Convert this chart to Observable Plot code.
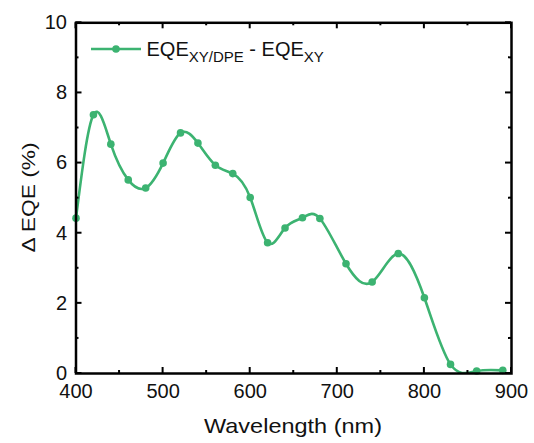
<!DOCTYPE html>
<html>
<head>
<meta charset="utf-8">
<script src="https://cdn.jsdelivr.net/npm/d3@7"></script>
<script src="https://cdn.jsdelivr.net/npm/@observablehq/plot@0.6"></script>
<style>
  html, body { margin: 0; padding: 0; background: #fff; }
  #chart { width: 534px; height: 443px; }
</style>
</head>
<body>
<div id="chart"></div>
<script>
const wavelength = [400, 420, 440, 460, 480, 500, 520, 540, 560, 580, 600, 620, 640, 660, 680, 710, 740, 770, 800, 830, 860, 890];
const deltaEQE   = [4.43, 7.38, 6.54, 5.52, 5.29, 6.00, 6.86, 6.57, 5.94, 5.70, 5.02, 3.73, 4.15, 4.44, 4.42, 3.13, 2.61, 3.42, 2.16, 0.26, 0.07, 0.09];
const xTicks = [400, 500, 600, 700, 800, 900];
const xMinorTicks = [450, 550, 650, 750, 850];
const yTicks = [0, 2, 4, 6, 8, 10];
const yMinorTicks = [1, 3, 5, 7, 9];
const seriesLabel = ["EQE", "XY/DPE", " - EQE", "XY"];
const xTitle = "Wavelength (nm)";
const yTitle = "\u0394 EQE (%)";

const green = "#3cb371";
const data = wavelength.map((w, i) => ({w, v: deltaEQE[i]}));
const font = "'Liberation Sans', Arial, sans-serif";

const W = 534, H = 443, mL = 75.5, mR = 23, mT = 22.3, mB = 70;

const plot = Plot.plot({
  width: W,
  height: H,
  marginLeft: mL,
  marginRight: mR,
  marginTop: mT,
  marginBottom: mB,
  style: {fontFamily: font, fontSize: "20px", color: "#111", background: "#fff"},
  x: {domain: [400, 900]},
  y: {domain: [0, 10]},
  marks: [
    Plot.line(data, {x: "w", y: "v", curve: "natural", stroke: green, strokeWidth: 2.6, clip: true}),
    Plot.dot(data, {x: "w", y: "v", r: 3.8, fill: green, stroke: "none"}),
    Plot.axisX({anchor: "bottom", ticks: xTicks, tickSize: 0, tickPadding: 10, label: null, fontSize: 20}),
    Plot.axisY({anchor: "left", ticks: yTicks, tickSize: 0, tickPadding: 9, label: null, fontSize: 20}),
    Plot.frame({stroke: "#000", strokeWidth: 2.5})
  ]
});
document.getElementById("chart").appendChild(plot);

const svg = d3.select(plot);
const sx = plot.scale("x"), sy = plot.scale("y");
const [x0, x1] = sx.range, [y0, y1] = sy.range;
const major = 6, minor = 3;
const tg = svg.append("g");
function seg(a, b, c, d) {
  tg.append("line").attr("x1", a).attr("y1", b).attr("x2", c).attr("y2", d)
    .attr("stroke", "#000").attr("stroke-width", 2);
}
for (const [vals, len] of [[xTicks, major], [xMinorTicks, minor]]) {
  for (const v of vals) {
    const px = sx.apply(v);
    seg(px, y0, px, y0 - len);
    seg(px, y1, px, y1 + len);
  }
}
for (const [vals, len] of [[yTicks, major], [yMinorTicks, minor]]) {
  for (const v of vals) {
    const py = sy.apply(v);
    seg(x0, py, x0 + len, py);
    seg(x1, py, x1 - len, py);
  }
}

svg.append("text")
  .attr("x", 293).attr("y", 433)
  .attr("text-anchor", "middle")
  .attr("font-family", font).attr("font-size", 21).attr("fill", "#111")
  .attr("textLength", 178).attr("lengthAdjust", "spacingAndGlyphs")
  .text(xTitle);
svg.append("text")
  .attr("transform", "translate(35,197.5) rotate(-90)")
  .attr("text-anchor", "middle")
  .attr("font-family", font).attr("font-size", 18).attr("fill", "#111")
  .attr("textLength", 110).attr("lengthAdjust", "spacingAndGlyphs")
  .text(yTitle);

const lg = svg.append("g");
lg.append("line").attr("x1", 91).attr("x2", 141).attr("y1", 49).attr("y2", 49)
  .attr("stroke", green).attr("stroke-width", 2.6);
lg.append("circle").attr("cx", 116).attr("cy", 49).attr("r", 3.8).attr("fill", green);
const t = lg.append("text").attr("x", 146.5).attr("y", 56)
  .attr("text-anchor", "start")
  .attr("font-family", font).attr("fill", "#111").attr("font-size", 20);
t.append("tspan").text(seriesLabel[0]);
t.append("tspan").attr("font-size", 15).attr("dy", 5.5).text(seriesLabel[1]);
t.append("tspan").attr("dy", -5.5).style("white-space", "pre").text(seriesLabel[2]);
t.append("tspan").attr("font-size", 15).attr("dy", 5.5).text(seriesLabel[3]);
</script>
</body>
</html>
